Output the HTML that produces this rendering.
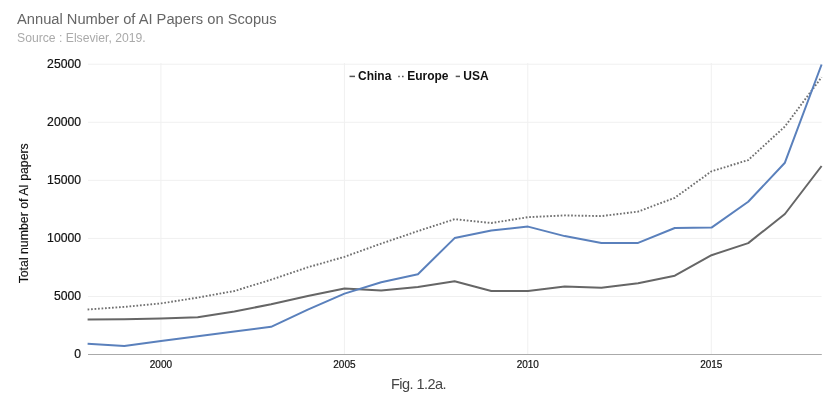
<!DOCTYPE html>
<html><head><meta charset="utf-8"><style>
html,body{margin:0;padding:0;background:#fff;width:838px;height:402px;overflow:hidden}
svg{display:block;will-change:transform}
text{font-family:"Liberation Sans",Arial,sans-serif}
.yl{font-size:12.2px;fill:#111;stroke:#111;stroke-width:0.2px}
.xl{font-size:10px;fill:#111;stroke:#111;stroke-width:0.2px}
.lg{font-size:12px;font-weight:bold;fill:#111}
</style></head><body>
<svg width="838" height="402" viewBox="0 0 838 402" xmlns="http://www.w3.org/2000/svg">
<rect width="838" height="402" fill="#fff"/>
<text x="17" y="23.8" style="font-size:14.7px;fill:#666">Annual Number of AI Papers on Scopus</text>
<text x="17" y="42.1" style="font-size:12.2px;fill:#aaa">Source : Elsevier, 2019.</text>
<line x1="88" y1="64.2" x2="821.6" y2="64.2" stroke="#f0f0f0" stroke-width="1"/><line x1="88" y1="122.26" x2="821.6" y2="122.26" stroke="#f0f0f0" stroke-width="1"/><line x1="88" y1="180.32" x2="821.6" y2="180.32" stroke="#f0f0f0" stroke-width="1"/><line x1="88" y1="238.38" x2="821.6" y2="238.38" stroke="#f0f0f0" stroke-width="1"/><line x1="88" y1="296.44" x2="821.6" y2="296.44" stroke="#f0f0f0" stroke-width="1"/><line x1="160.9" y1="63" x2="160.9" y2="354" stroke="#f0f0f0" stroke-width="1"/><line x1="344.4" y1="63" x2="344.4" y2="354" stroke="#f0f0f0" stroke-width="1"/><line x1="527.8" y1="63" x2="527.8" y2="354" stroke="#f0f0f0" stroke-width="1"/><line x1="711.3" y1="63" x2="711.3" y2="354" stroke="#f0f0f0" stroke-width="1"/>
<line x1="88" y1="354.5" x2="821.8" y2="354.5" stroke="#aaa" stroke-width="1"/>
<text x="81" y="67.8" text-anchor="end" class="yl">25000</text><text x="81" y="125.9" text-anchor="end" class="yl">20000</text><text x="81" y="183.9" text-anchor="end" class="yl">15000</text><text x="81" y="242.0" text-anchor="end" class="yl">10000</text><text x="81" y="300.0" text-anchor="end" class="yl">5000</text><text x="81" y="358.1" text-anchor="end" class="yl">0</text><text x="160.9" y="367.5" text-anchor="middle" class="xl">2000</text><text x="344.4" y="367.5" text-anchor="middle" class="xl">2005</text><text x="527.8" y="367.5" text-anchor="middle" class="xl">2010</text><text x="711.3" y="367.5" text-anchor="middle" class="xl">2015</text>
<text transform="translate(28.2,213.3) rotate(-90)" text-anchor="middle" style="font-size:12.3px;fill:#111;stroke:#111;stroke-width:0.15px">Total number of AI papers</text>
<line x1="349.5" y1="76.4" x2="355" y2="76.4" stroke="#555" stroke-width="1.5"/>
<text x="358" y="79.6" class="lg">China</text>
<line x1="398.2" y1="76.4" x2="403.8" y2="76.4" stroke="#555" stroke-width="1.5" stroke-dasharray="1.6 2.2"/>
<text x="407.2" y="79.6" class="lg">Europe</text>
<line x1="455.7" y1="76.4" x2="460" y2="76.4" stroke="#555" stroke-width="1.5"/>
<text x="463.3" y="79.6" class="lg">USA</text>
<polyline points="87.6,319.6 124.3,319.2 161.0,318.5 197.7,317.3 234.4,311.4 271.1,304.3 307.8,296.1 344.5,288.6 381.2,290.6 417.9,287.0 454.6,281.3 491.3,291.0 528.0,291.0 564.7,286.6 601.4,287.7 638.1,283.2 674.8,275.7 711.5,255.2 748.2,243.1 784.9,214.0 821.6,166.0" fill="none" stroke="#666" stroke-width="2" stroke-linejoin="round"/>
<polyline points="87.6,309.5 124.3,306.9 161.0,303.4 197.7,297.6 234.4,291.0 271.1,279.7 307.8,267.3 344.5,256.8 381.2,243.6 417.9,231.1 454.6,219.2 491.3,223.0 528.0,217.2 564.7,215.4 601.4,216.1 638.1,211.6 674.8,197.8 711.5,171.3 748.2,160.1 784.9,126.5 821.6,77.2" fill="none" stroke="#707070" stroke-width="1.9" stroke-dasharray="1.7 1.8"/>
<polyline points="87.6,343.7 124.3,346.1 161.0,341.0 197.7,336.3 234.4,331.6 271.1,326.8 307.8,309.6 344.5,293.6 381.2,282.2 417.9,274.2 454.6,238.1 491.3,230.6 528.0,226.6 564.7,236.1 601.4,242.9 638.1,242.9 674.8,228.0 711.5,227.6 748.2,201.8 784.9,162.7 821.6,64.5" fill="none" stroke="#5a80bc" stroke-width="2" stroke-linejoin="round"/>
<text x="391" y="388.6" style="font-size:14.5px;fill:#444;letter-spacing:-0.55px">Fig. 1.2a.</text>
</svg>
</body></html>
